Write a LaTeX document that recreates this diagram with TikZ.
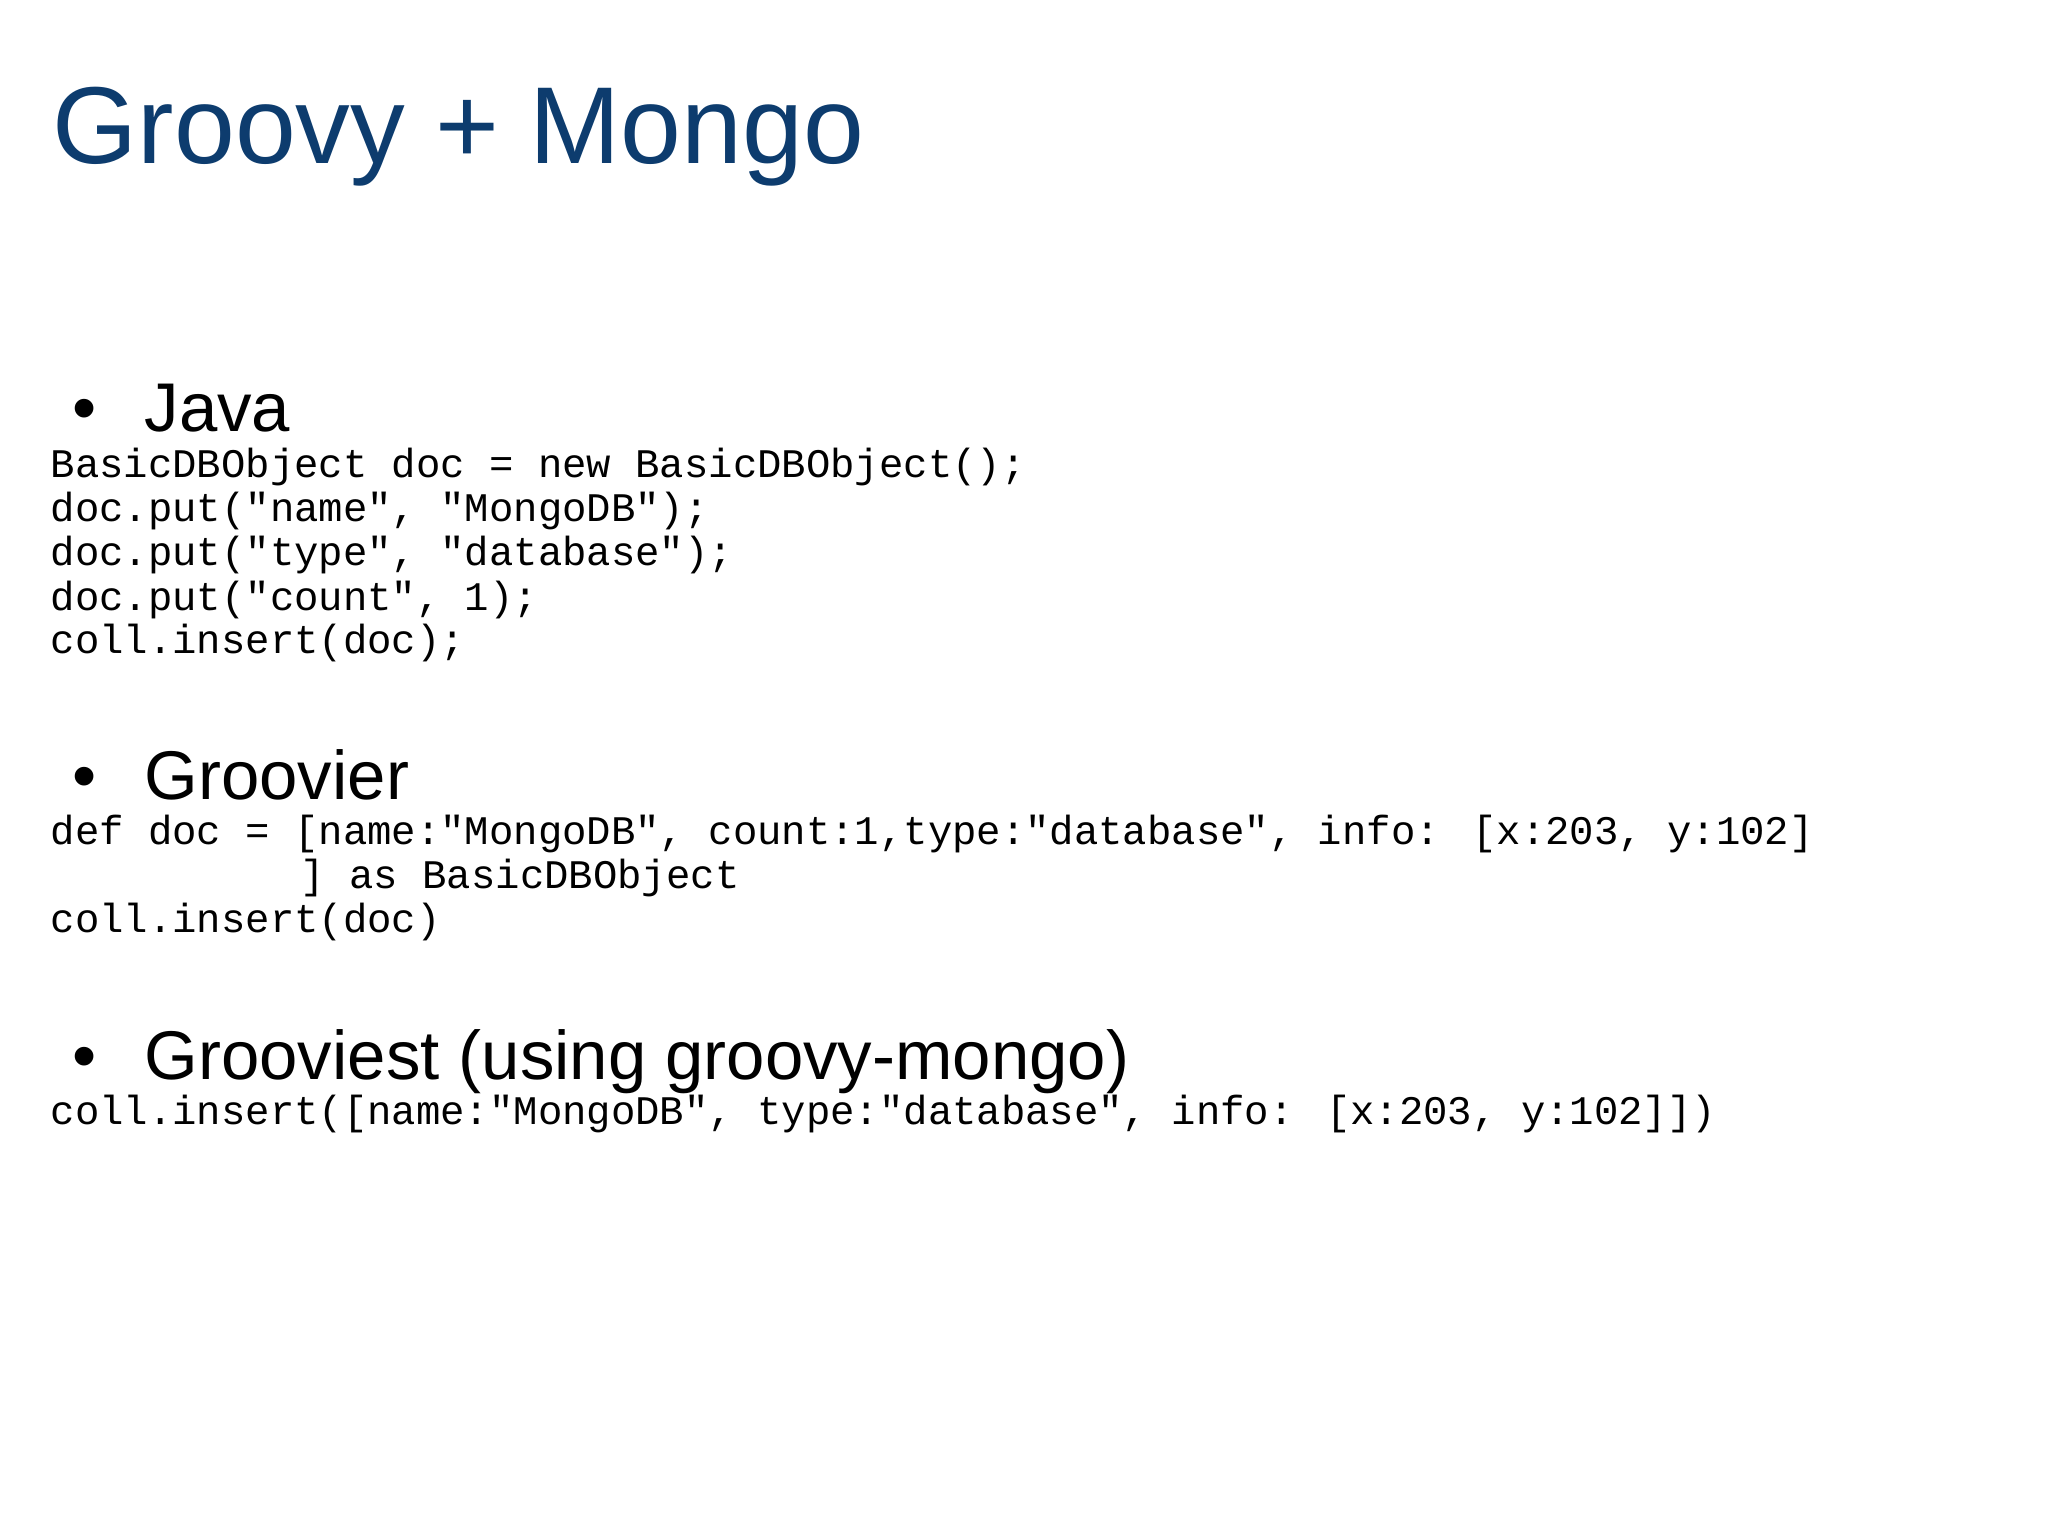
\documentclass[tikz,border=0pt]{standalone}
\usepackage{fontspec}
\setmainfont{Liberation Sans}
\newfontfamily\codefont{Liberation Mono}
\definecolor{titleblue}{HTML}{0D3C6E}
\begin{document}
\begin{tikzpicture}[x=0.01cm,y=-0.01cm,
  ttl/.style={anchor=base west,inner sep=0,text=titleblue,font=\fontsize{31.1}{36}\selectfont},
  bul/.style={anchor=base west,inner sep=0,font=\fontsize{19.6}{24}\selectfont},
  code/.style={anchor=base west,inner sep=0,font=\codefont\fontsize{11.55}{12.6}\selectfont}]
\fill[white] (0,0) rectangle (2048,1536);
\useasboundingbox (0,0) rectangle (2048,1536);
\node[ttl] (title) at (52,163) {Groovy + Mongo};
\node[bul] (b1d) at (72,431) {•};
\node[bul] (b1) at (144,431) {Java};
\node[code] (j1) at (50,477) {BasicDBObject doc = new BasicDBObject();};
\node[code] (j2) at (50,521) {doc.put("name", "MongoDB");};
\node[code] (j3) at (50,565) {doc.put("type", "database");};
\node[code] (j4) at (50,610) {doc.put("count", 1);};
\node[code] (j5) at (50,653) {coll.insert(doc);};
\node[bul] (b2d) at (72,799) {•};
\node[bul] (b2) at (144,799) {Groovier};
\node[code] (g1) at (50,844) {def doc = [name:"MongoDB", count:1,type:"database", info: [x:203, y:102]};
\node[code] (g2) at (300,888) {] as BasicDBObject};
\node[code] (g3) at (50,932) {coll.insert(doc)};
\node[bul] (b3d) at (72,1079) {•};
\node[bul] (b3) at (144,1079) {Grooviest (using groovy-mongo)};
\node[code] (h1) at (50,1124) {coll.insert([name:"MongoDB", type:"database", info: [x:203, y:102]])};
\end{tikzpicture}
\end{document}
